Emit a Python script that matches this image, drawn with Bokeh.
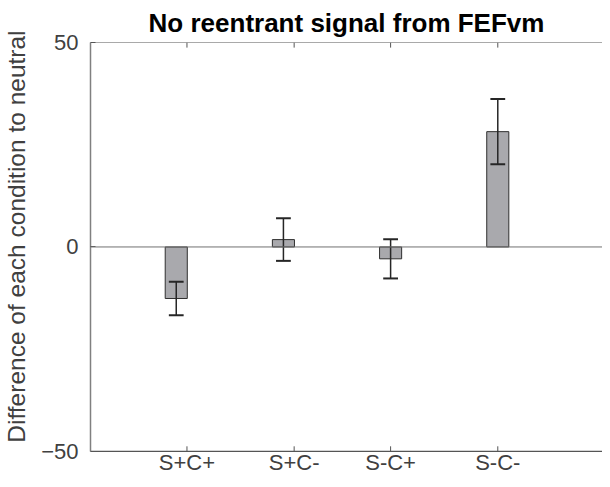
from bokeh.plotting import figure
from bokeh.models import Range1d, FixedTicker, Span
from bokeh.core.properties import value
from bokeh.embed import file_html
from bokeh.resources import INLINE

# ---- data ----
conditions = ["S+C+", "S+C-", "S-C+", "S-C-"]
bar_pos = [1, 2, 3, 4]
tick_pos = [1.1, 2.1, 3.0, 4.0]
values = [-12.6, 1.8, -2.9, 28.2]
errors = [4.1, 5.2, 4.8, 8.0]
y_ticks = [-50, 0, 50]

title_text = "No reentrant signal from FEFvm"
ylabel_text = "Difference of each condition to neutral"

FONT = "Liberation Sans"
GREY_TXT = "#404040"
SPINE = "#555555"

y_lo, y_hi = y_ticks[0], y_ticks[-1]
pad = 4.91          # room below the box for the category labels (data units)

p = figure(width=602, height=471, x_range=Range1d(0.2, 4.977),
           y_range=Range1d(y_lo - pad, y_hi),
           output_backend="svg", toolbar_location=None, x_axis_location=None,
           min_border_left=80, min_border_right=0, min_border_top=35, min_border_bottom=0)

p.title.text = title_text
p.title.text_font = FONT
p.title.text_font_size = "26px"
p.title.text_font_style = "bold"
p.title.text_color = "black"
p.title.align = "center"
p.title.offset = 12

p.grid.visible = False
p.outline_line_color = None
p.background_fill_color = "white"
p.border_fill_color = "white"

# left axis, drawn only over the box
ya = p.yaxis[0]
ya.bounds = (y_lo, y_hi)
ya.ticker = FixedTicker(ticks=y_ticks)
ya.major_tick_in = 5
ya.major_tick_out = 0
ya.minor_tick_line_color = None
ya.axis_line_color = "#808080"
ya.axis_line_width = 1.5
ya.major_tick_line_color = SPINE
ya.major_label_text_font = FONT
ya.major_label_text_font_size = "22px"
ya.major_label_text_color = GREY_TXT
ya.major_label_standoff = 12
ya.axis_label = "\u00a0" * 6 + ylabel_text
ya.axis_label_text_font = FONT
ya.axis_label_text_font_size = "24.5px"
ya.axis_label_text_font_style = "normal"
ya.axis_label_text_color = GREY_TXT
ya.axis_label_standoff = 8

# box lines (bottom & top) with inward ticks at the category positions
p.add_layout(Span(location=y_lo, dimension="width", line_color=SPINE, line_width=1.2))
p.add_layout(Span(location=y_hi, dimension="width", line_color=SPINE, line_width=1.2))
tick_len = 1.25
n = len(tick_pos)
p.segment(x0=tick_pos, x1=tick_pos, y0=[y_lo] * n, y1=[y_lo + tick_len] * n,
          line_color=SPINE, line_width=1)
p.segment(x0=tick_pos, x1=tick_pos, y0=[y_hi] * n, y1=[y_hi - tick_len] * n,
          line_color=SPINE, line_width=1)

# category labels under the box
p.text(x=tick_pos, y=[y_lo - 2.7] * n, text=conditions,
       text_align="center", text_baseline="middle",
       text_font=value(FONT), text_font_size=value("22px"), text_color=GREY_TXT)

# zero baseline
p.add_layout(Span(location=0, dimension="width", line_color="#707070", line_width=1))

# bars
p.vbar(x=bar_pos, top=values, bottom=0, width=0.206,
       fill_color="#a9a9ad", line_color="#2f2f2f", line_width=1)

# error bars
lo = [v - e for v, e in zip(values, errors)]
hi = [v + e for v, e in zip(values, errors)]
cap = 0.069
p.segment(x0=bar_pos, x1=bar_pos, y0=lo, y1=hi, line_color="#262626", line_width=1.5)
p.segment(x0=[x - cap for x in bar_pos], x1=[x + cap for x in bar_pos], y0=lo, y1=lo,
          line_color="#262626", line_width=2)
p.segment(x0=[x - cap for x in bar_pos], x1=[x + cap for x in bar_pos], y0=hi, y1=hi,
          line_color="#262626", line_width=2)

open("out.html", "w").write(file_html(p, INLINE))
